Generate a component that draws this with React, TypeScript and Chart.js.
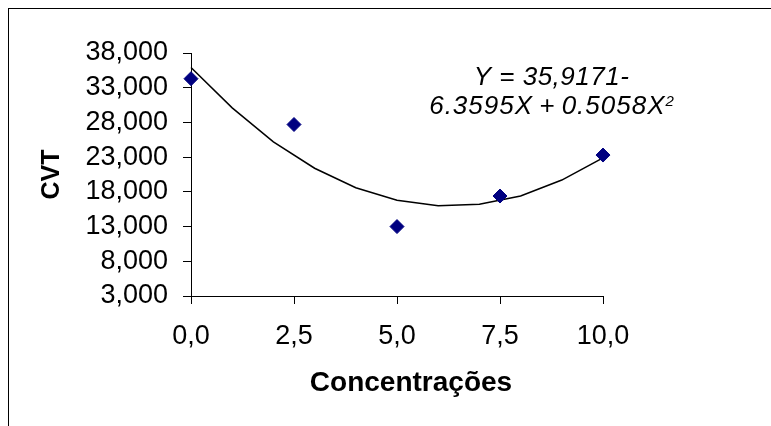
import React, { useEffect, useRef } from "react";
import { Chart, registerables } from "chart.js";

Chart.register(...registerables);

// ---- data ----
const concentrations = [0, 2.5, 5, 7.5, 10];
const cvtValues = [34300, 27700, 13000, 17400, 23300];
const fitX = [0, 1, 2, 3, 4, 5, 6, 7, 8, 9, 10];
const fitY = [35900, 30100, 25200, 21400, 18600, 16800, 16000, 16200, 17400, 19700, 22900];
const xTickValues = [0, 2.5, 5, 7.5, 10];
const yTickValues = [3000, 8000, 13000, 18000, 23000, 28000, 33000, 38000];
const xTitle = "\u2002\u2002Concentrações";
const yTitle = "CVT";
const equationLine1 = "Y = 35,9171-";
const equationLine2 = "6.3595X\u2009+\u20090.5058X";
const equationSup = "2";

const FONT = "'Liberation Sans', Arial, Helvetica, sans-serif";

const equationPlugin = {
  id: "equation",
  afterDraw(chart: any) {
    const { ctx } = chart;
    const xs = chart.scales.x;
    const ys = chart.scales.y;
    const cx = xs.getPixelForValue(8.75);
    const y1 = ys.getPixelForValue(33400);
    const y2 = ys.getPixelForValue(29200);
    ctx.save();
    ctx.fillStyle = "#000";
    ctx.textBaseline = "alphabetic";
    ctx.font = `italic 26px ${FONT}`;
    (ctx as any).letterSpacing = "0.5px";
    ctx.textAlign = "center";
    ctx.fillText(equationLine1, cx, y1);
    (ctx as any).letterSpacing = "1px";
    ctx.textAlign = "left";
    const w2 = ctx.measureText(equationLine2).width;
    ctx.font = `italic 15px ${FONT}`;
    (ctx as any).letterSpacing = "0px";
    const ws = ctx.measureText(equationSup).width;
    const start = cx - (w2 + ws) / 2;
    ctx.font = `italic 26px ${FONT}`;
    (ctx as any).letterSpacing = "1px";
    ctx.fillText(equationLine2, start, y2);
    ctx.font = `italic 15px ${FONT}`;
    (ctx as any).letterSpacing = "0px";
    ctx.fillText(equationSup, start + w2, y2 - 8);
    ctx.restore();
  },
};

export default function App() {
  const canvasRef = useRef<HTMLCanvasElement | null>(null);

  useEffect(() => {
    if (!canvasRef.current) return;
    Chart.defaults.font.family = FONT;
    Chart.defaults.color = "#000";
    const chart = new Chart(canvasRef.current, {
      type: "scatter",
      data: {
        datasets: [
          {
            label: "CVT",
            data: concentrations.map((x, i) => ({ x, y: cvtValues[i] })),
            pointStyle: "rectRot",
            pointRadius: 7,
            pointHoverRadius: 7,
            backgroundColor: "#000080",
            borderColor: "#000080",
            borderWidth: 1,
            showLine: false,
            clip: false,
          },
          {
            label: "Ajuste",
            data: fitX.map((x, i) => ({ x, y: fitY[i] })),
            showLine: true,
            pointRadius: 0,
            borderColor: "#000",
            borderWidth: 1.5,
            tension: 0,
            fill: false,
            clip: false,
          },
        ],
      },
      options: {
        responsive: false,
        animation: false,
        events: [],
        layout: { padding: { left: 0, top: 53, right: 168, bottom: 0 } },
        plugins: {
          legend: { display: false },
          tooltip: { enabled: false },
          title: { display: false },
        },
        scales: {
          x: {
            type: "linear",
            min: 0,
            max: 10,
            afterBuildTicks: (scale: any) => {
              scale.ticks = xTickValues.map((v) => ({ value: v }));
            },
            afterFit: (scale: any) => {
              scale.height = 130;
            },
            ticks: {
              autoSkip: false,
              maxRotation: 0,
              padding: 16,
              font: { size: 27 },
              color: "#000",
              callback: (v: any) => Number(v).toFixed(1).replace(".", ","),
            },
            grid: {
              display: true,
              drawOnChartArea: false,
              drawTicks: true,
              tickLength: 8,
              color: "#000",
            },
            border: { display: true, color: "#000", width: 1 },
            title: {
              display: true,
              text: xTitle,
              font: { size: 28, weight: "bold" },
              color: "#000",
              padding: { top: 0, bottom: 26 },
            },
          },
          y: {
            type: "linear",
            min: 3000,
            max: 38000,
            afterBuildTicks: (scale: any) => {
              scale.ticks = yTickValues.map((v) => ({ value: v }));
            },
            afterFit: (scale: any) => {
              scale.width = 191;
            },
            ticks: {
              autoSkip: false,
              padding: 15,
              font: { size: 27 },
              color: "#000",
              callback: (v: any) => Number(v).toLocaleString("en-US"),
            },
            grid: {
              display: true,
              drawOnChartArea: false,
              drawTicks: true,
              tickLength: 8,
              color: "#000",
            },
            border: { display: true, color: "#000", width: 1 },
            title: {
              display: true,
              text: yTitle,
              font: { size: 25, weight: "bold" },
              color: "#000",
              padding: { top: 37, bottom: 0 },
            },
          },
        },
      },
      plugins: [equationPlugin],
    } as any);
    return () => chart.destroy();
  }, []);

  return (
    <div style={{ position: "fixed", left: 0, top: 0, width: 771, height: 426, background: "#fff", overflow: "hidden" }}>
      <div
        style={{
          position: "absolute",
          left: 8,
          top: 8,
          width: 780,
          height: 430,
          borderTop: "1px solid #000",
          borderLeft: "1px solid #000",
          boxSizing: "border-box",
        }}
      />
      <canvas ref={canvasRef} width={771} height={426} style={{ position: "absolute", left: 0, top: 0 }} />
    </div>
  );
}
